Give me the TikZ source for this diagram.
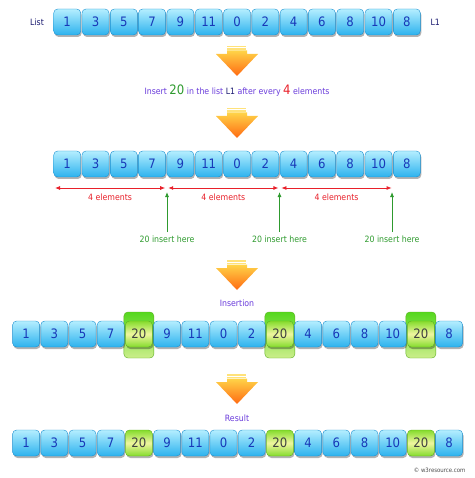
\documentclass[tikz,border=0pt]{standalone}
\usepackage{fontspec}
\setmainfont{DejaVu Sans Condensed}
\usetikzlibrary{arrows.meta,shadows}

\definecolor{celltop}{HTML}{B4EEFF}
\definecolor{cellbot}{HTML}{2CB2EE}
\definecolor{cellline}{HTML}{1C8FCF}
\definecolor{celltext}{HTML}{1838B8}
\definecolor{newtop}{HTML}{84DC2C}
\definecolor{newmid}{HTML}{F0F6A0}
\definecolor{newline}{HTML}{5DAE22}
\definecolor{bartop}{HTML}{55D81E}
\definecolor{barbot}{HTML}{CBEE8A}
\definecolor{txtviolet}{HTML}{6A3CDB}
\definecolor{txtnavy}{HTML}{1A1A70}
\definecolor{txtgreen}{HTML}{2E9A2E}
\definecolor{txtred}{HTML}{E8202A}
\definecolor{arrowtop}{HTML}{FFD448}
\definecolor{arrowbot}{HTML}{FF6A12}
\definecolor{barcol}{HTML}{FFE27A}

\tikzset{
  cell/.style={draw=cellline, rounded corners=4pt, minimum width=27pt,
    minimum height=26pt, inner sep=0pt, top color=celltop, bottom color=cellbot,
    text=celltext, font=\fontsize{13}{13}\selectfont,
    drop shadow={shadow xshift=1pt, shadow yshift=-2pt, opacity=0.3, fill=black}},
  newcell/.style={cell, draw=newline, top color=newtop, bottom color=newtop,
    middle color=newmid, text=black!75},
  newbar/.style={draw=newline, rounded corners=4pt, minimum width=30pt,
    minimum height=46pt, inner sep=0pt, top color=bartop, bottom color=barbot},
  dimline/.style={draw=txtred, thick, {Latex[length=5pt,width=4pt]}-{Latex[length=5pt,width=4pt]},
    shorten <=1.5pt, shorten >=1.5pt},
  insline/.style={draw=txtgreen, thick, -{Latex[length=5pt,width=4pt]}},
  small/.style={font=\fontsize{8.7}{10}\selectfont},
}

% orange arrow pointing down, #1 = centre x, #2 = top y
\newcommand{\bigdown}[2]{%
  \fill[barcol] (#1-10,#2) rectangle (#1+9,#2+1.5);
  \fill[barcol] (#1-10,#2+2.5) rectangle (#1+9,#2+4);
  \path[top color=arrowtop, bottom color=arrowbot]
    (#1-10,#2+4.5) -- (#1+10,#2+4.5) -- (#1+10,#2+8) -- (#1+21,#2+8)
    -- (#1,#2+30) -- (#1-21,#2+8) -- (#1-10,#2+8) -- cycle;
}

\begin{document}
\begin{tikzpicture}[x=1pt,y=-1pt]
\useasboundingbox (0,0) rectangle (474,478);

% the list
\node[small, text=txtnavy] (list) at (37,22) {List};
\foreach \v [count=\i] in {1,3,5,7,9,11,0,2,4,6,8,10,8}
  \node[cell] (a\i) at ({67.2+28.3*(\i-1)},22) {\v};
\node[small, text=txtnavy, anchor=west] (name) at (427,22) {L1};

\bigdown{237}{46}
\node[small, text=txtviolet] (task) at (237,91) {Insert
  {\color{txtgreen}\fontsize{13}{13}\selectfont 20} in the list
  {\color{txtnavy}L1} after every {\color{txtred}\fontsize{13}{13}\selectfont 4} elements};

\bigdown{237}{108}

% groups of four
\foreach \v [count=\i] in {1,3,5,7,9,11,0,2,4,6,8,10,8}
  \node[cell] (b\i) at ({67.2+28.3*(\i-1)},164) {\v};

\coordinate (e0) at (53.5,188);
\coordinate (e1) at (166.7,188);
\coordinate (e2) at (279.9,188);
\coordinate (e3) at (393.1,188);
\path[dimline] (e0) -- node[small, text=txtred, below=2pt] (g1) {4 elements} (e1);
\path[dimline] (e1) -- node[small, text=txtred, below=2pt] (g2) {4 elements} (e2);
\path[dimline] (e2) -- node[small, text=txtred, below=2pt] (g3) {4 elements} (e3);

\coordinate (p1) at (167,192);
\coordinate (p2) at (279.5,192);
\coordinate (p3) at (392,192);
\node[small, text=txtgreen] (h1) at (167,239) {20 insert here};
\node[small, text=txtgreen] (h2) at (279.5,239) {20 insert here};
\node[small, text=txtgreen] (h3) at (392,239) {20 insert here};
\path[insline] (h1.north) -- (p1);
\path[insline] (h2.north) -- (p2);
\path[insline] (h3.north) -- (p3);

\bigdown{237}{260}
\node[small, text=txtviolet] (step3) at (237,303) {Insertion};

% insertion
\foreach \i in {5,10,15}
  \node[newbar] (bar\i) at ({26.1+28.2*(\i-1)},335) {};
\foreach \i/\v in {1/1,2/3,3/5,4/7,6/9,7/11,8/0,9/2,11/4,12/6,13/8,14/10,16/8}
  \node[cell] (c\i) at ({26.1+28.2*(\i-1)},334) {\v};
\foreach \i in {5,10,15}
  \node[newcell] (c\i) at ({26.1+28.2*(\i-1)},334) {20};

\bigdown{237}{374}
\node[small, text=txtviolet] (step4) at (237,418) {Result};

% result
\foreach \i/\v in {1/1,2/3,3/5,4/7,6/9,7/11,8/0,9/2,11/4,12/6,13/8,14/10,16/8}
  \node[cell] (d\i) at ({26.1+28.2*(\i-1)},443) {\v};
\foreach \i in {5,10,15}
  \node[newcell] (d\i) at ({26.1+28.2*(\i-1)},443) {20};

\node[font=\fontsize{6}{7}\selectfont, text=black!70, anchor=east] (copy) at (469,470) {© w3resource.com};
\end{tikzpicture}
\end{document}
